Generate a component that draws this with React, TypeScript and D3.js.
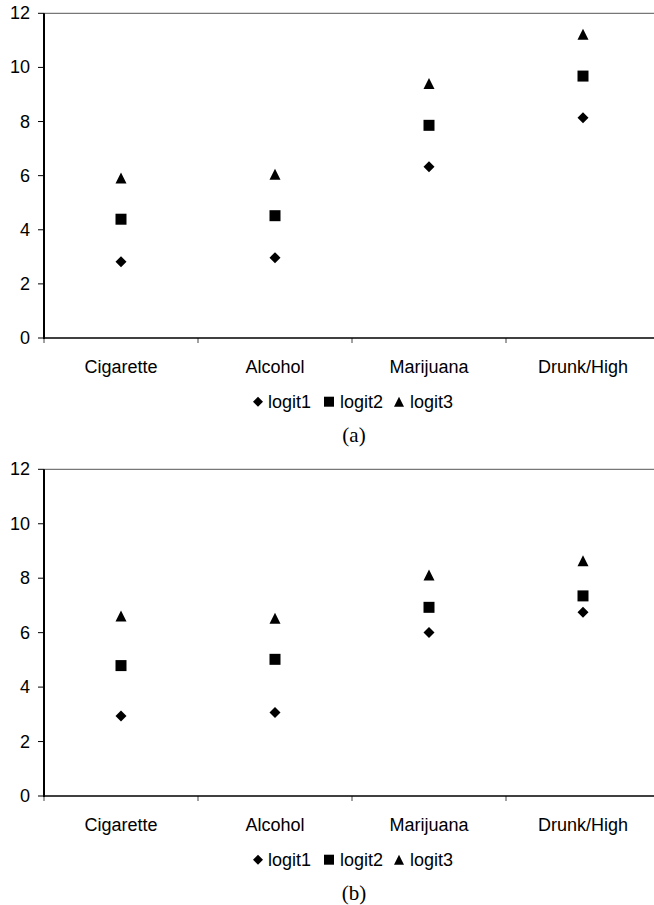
import React from "react";
import * as d3 from "d3";

const categories = ["Cigarette", "Alcohol", "Marijuana", "Drunk/High"];
const seriesNames = ["logit1", "logit2", "logit3"];
const yTicks = [0, 2, 4, 6, 8, 10, 12];

// Panel (a)
const aLogit1 = [2.82, 2.97, 6.33, 8.14];
const aLogit2 = [4.39, 4.52, 7.86, 9.68];
const aLogit3 = [5.91, 6.05, 9.41, 11.23];

// Panel (b)
const bLogit1 = [2.94, 3.07, 6.01, 6.75];
const bLogit2 = [4.79, 5.02, 6.93, 7.35];
const bLogit3 = [6.61, 6.53, 8.12, 8.64];

const captions = ["(a)", "(b)"];

const FONT = "'Liberation Sans', Arial, sans-serif";

function markerPath(kind: number, s: number): string {
  const h = s / 2;
  if (kind === 0) return `M0,${-h}L${h},0L0,${h}L${-h},0Z`;
  if (kind === 1) return `M${-h},${-h}H${h}V${h}H${-h}Z`;
  return `M0,${-h}L${h},${h}L${-h},${h}Z`;
}

function Panel({ series, top, bottom, caption }: { series: number[][]; top: number; bottom: number; caption: string }) {
  const x = d3.scaleBand<string>().domain(categories).range([44, 660]).padding(0);
  const y = d3.scaleLinear().domain([0, 12]).range([bottom, top]);
  const x0 = 44;
  const xEnd = 660;
  const boundaries = d3.range(categories.length + 1).map((i) => x0 + i * x.bandwidth());
  const legendItems = [
    { marker: 258, text: 268 },
    { marker: 329, text: 340 },
    { marker: 399, text: 410 },
  ];
  return (
    <g>
      {/* top border */}
      <line x1={x0} x2={xEnd} y1={y(12)} y2={y(12)} stroke="#555" strokeWidth={1} />
      {/* y ticks */}
      {yTicks.map((t) => (
        <g key={t}>
          <line x1={x0 - 6} x2={x0} y1={y(t)} y2={y(t)} stroke="#000" strokeWidth={1} />
          <text x={30} y={y(t)} textAnchor="end" dominantBaseline="central" fontFamily={FONT} fontSize={18} fill="#000">
            {t}
          </text>
        </g>
      ))}
      {/* x ticks */}
      {boundaries.map((b, i) => (
        <line key={i} x1={b} x2={b} y1={y(0)} y2={y(0) + 5} stroke="#444" strokeWidth={1} />
      ))}
      {/* axes */}
      <line x1={x0} x2={xEnd} y1={y(0)} y2={y(0)} stroke="#000" strokeWidth={1.3} />
      <line x1={x0} x2={x0} y1={y(12)} y2={y(0) + 1} stroke="#000" strokeWidth={2} />
      {/* category labels */}
      {categories.map((c) => (
        <text key={c} x={(x(c) as number) + x.bandwidth() / 2} y={y(0) + 28.7} textAnchor="middle" dominantBaseline="central" fontFamily={FONT} fontSize={18} fill="#000">
          {c}
        </text>
      ))}
      {/* markers */}
      {series.map((vals, si) =>
        vals.map((v, ci) => (
          <path
            key={`${si}-${ci}`}
            d={markerPath(si, 11)}
            transform={`translate(${(x(categories[ci]) as number) + x.bandwidth() / 2},${y(v)})`}
            fill="#000"
          />
        ))
      )}
      {/* legend */}
      {seriesNames.map((n, i) => (
        <g key={n}>
          <path d={markerPath(i, 10)} transform={`translate(${legendItems[i].marker},${y(0) + 63.7})`} fill="#000" />
          <text x={legendItems[i].text} y={y(0) + 63.7} dominantBaseline="central" fontFamily={FONT} fontSize={18} fill="#000">
            {n}
          </text>
        </g>
      ))}
      {/* caption */}
      <text x={354} y={y(0) + 97} textAnchor="middle" dominantBaseline="central" fontFamily="'Liberation Serif', 'DejaVu Serif', serif" fontSize={21} fill="#000">
        {caption}
      </text>
    </g>
  );
}

export default function App() {
  return (
    <div style={{ position: "absolute", left: 0, top: 0, width: 654, height: 905, overflow: "hidden", background: "#fff" }}>
      <svg width={654} height={905} viewBox="0 0 654 905" style={{ display: "block" }}>
        <rect x={0} y={0} width={654} height={905} fill="#fff" />
        <Panel series={[aLogit1, aLogit2, aLogit3]} top={13.3} bottom={338} caption={captions[0]} />
        <Panel series={[bLogit1, bLogit2, bLogit3]} top={469.3} bottom={796} caption={captions[1]} />
      </svg>
    </div>
  );
}
